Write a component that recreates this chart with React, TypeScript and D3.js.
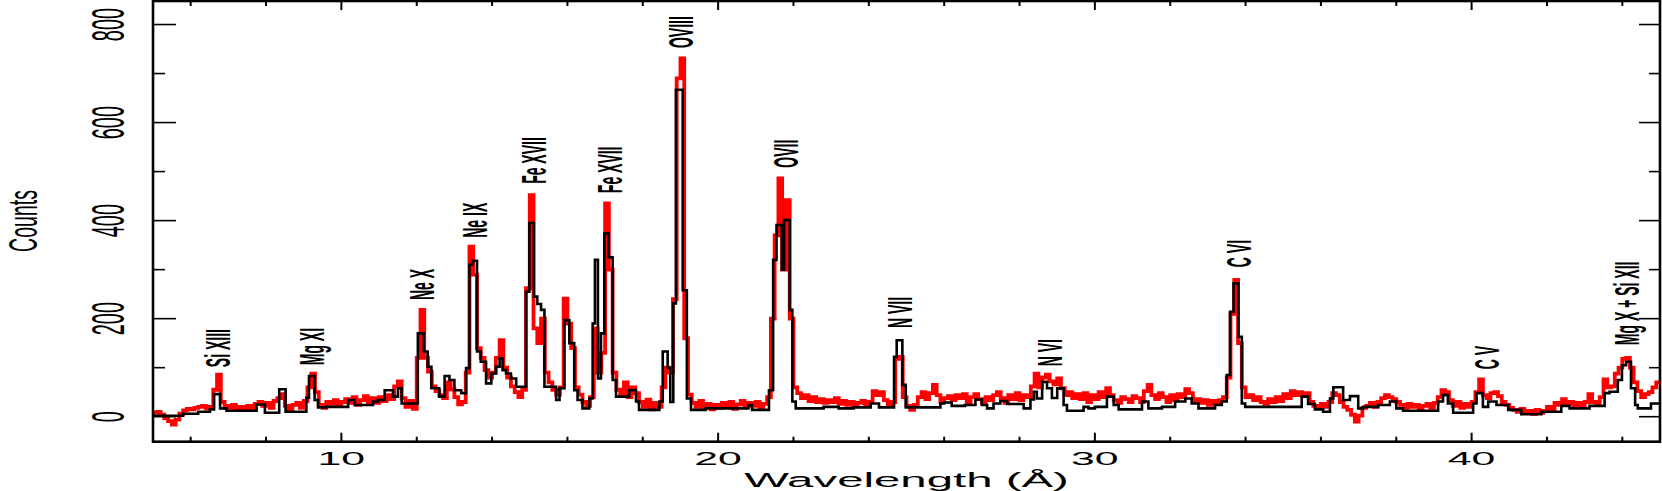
import React from 'react';
import * as d3 from 'd3';

const W = 1662;
const H = 491;

// Observed spectrum (red), 0.1 Å bins starting at 5.0 Å
const dataStart = 5.0;
const dataStep = 0.1;
const dataCounts = [
  8, 10, 4, -3, -9, -16, -6, 6, 13, 16,
  15, 18, 20, 22, 17, 20, 55, 86, 30, 22,
  18, 24, 16, 20, 14, 22, 17, 26, 30, 22,
  28, 18, 32, 38, 46, 22, 14, 24, 28, 18,
  32, 60, 88, 50, 24, 18, 30, 26, 34, 22,
  30, 36, 28, 40, 24, 34, 42, 30, 38, 28,
  40, 32, 44, 36, 62, 72, 38, 20, 32, 16,
  120, 218, 120, 92, 62, 52, 44, 38, 70, 56,
  40, 25, 30, 90, 347, 290, 140, 120, 95, 80,
  90, 120, 156, 100, 80, 62, 50, 40, 55, 262,
  452, 180, 150, 200, 90, 70, 55, 45, 60, 241,
  190, 140, 60, 45, 30, 22, 40, 180, 90, 130,
  435, 300, 90, 55, 45, 70, 40, 60, 48, 30,
  20, 35, 15, 28, 20, 60, 100, 90, 240, 690,
  731, 160, 45, 28, 20, 32, 18, 26, 15, 24,
  18, 28, 20, 30, 16, 25, 32, 20, 28, 22,
  30, 18, 26, 40, 200, 370, 486, 300, 442, 200,
  60, 48, 38, 44, 32, 40, 30, 36, 28, 34,
  30, 38, 26, 32, 24, 30, 22, 28, 32, 24,
  30, 52, 44, 50, 34, 22, 30, 118, 122, 40,
  22, 14, 24, 40, 50, 36, 48, 65, 44, 30,
  38, 42, 34, 44, 38, 46, 30, 40, 46, 36,
  28, 40, 34, 44, 50, 38, 28, 44, 36, 48,
  34, 44, 40, 62, 88, 60, 80, 86, 72, 66,
  78, 58, 44, 50, 38, 46, 36, 48, 30, 44,
  36, 50, 40, 58, 44, 34, 28, 40, 36, 30,
  42, 38, 30, 52, 65, 44, 36, 48, 40, 30,
  44, 34, 46, 40, 56, 48, 30, 36, 28, 34,
  24, 32, 26, 34, 40, 80, 210, 279, 150, 60,
  40, 44, 34, 40, 30, 26, 36, 30, 40, 32,
  46, 38, 52, 44, 50, 42, 48, 30, 22, 18,
  26, 20, 30, 48, 44, 30, 20, 14, 4, -10,
  2, 18, 22, 28, 20, 30, 38, 44, 40, 36,
  30, 24, 18, 26, 20, 24, 16, 22, 26, 18,
  28, 40, 54, 50, 34, 22, 30, 18, 26, 20,
  30, 50, 76, 44, 38, 48, 50, 42, 30, 24,
  18, 14, 10, 16, 8, 12, 6, 14, 8, 12,
  20, 14, 28, 24, 36, 26, 30, 20, 28, 22,
  30, 46, 30, 24, 40, 76, 60, 62, 88, 100,
  118, 120, 100, 70, 52, 40, 46, 50, 60, 70,
];

// Model (black): bin left edges (Å) and counts
const modelEdges = [
  5.0, 5.8, 6.2, 6.51, 6.62, 6.78, 6.95, 7.75, 7.97, 8.35, 8.52, 9.07, 9.14, 9.29, 9.38, 9.6,
  10.18, 10.35, 10.84, 10.97, 11.15, 11.37, 11.5, 11.6, 12.03, 12.19, 12.29, 12.39, 12.6, 12.74,
  12.87, 13.0, 13.18, 13.31, 13.4, 13.49, 13.6, 13.7, 13.84, 13.98, 14.1, 14.2, 14.28, 14.37,
  14.5, 14.64, 14.9, 14.99, 15.11, 15.2, 15.3, 15.39, 15.7, 15.79, 15.92, 16.05, 16.18, 16.27,
  16.4, 16.58, 16.67, 16.73, 16.81, 16.89, 16.98, 17.09, 17.2, 17.29, 17.64, 17.82, 17.9, 18.44,
  18.53, 18.66, 18.73, 18.81, 18.88, 19.06, 19.17, 19.28, 19.67, 20.8, 20.9, 21.35, 21.46, 21.55,
  21.69, 21.75, 21.9, 21.97, 22.06, 22.8, 23.2, 23.6, 24.05, 24.27, 24.67, 24.74, 24.89, 24.98,
  25.9, 26.0, 26.2, 26.55, 26.83, 27.0, 27.14, 27.31, 27.49, 27.67, 28.11, 28.29, 28.38, 28.46,
  28.6, 28.73, 28.86, 29.0, 29.17, 29.26, 29.7, 29.83, 30.0, 30.32, 30.5, 30.63, 31.25, 31.42,
  31.78, 32.13, 32.4, 32.57, 32.75, 33.19, 33.37, 33.5, 33.59, 33.68, 33.81, 33.9, 33.99, 35.49,
  35.66, 35.84, 36.06, 36.24, 36.33, 36.59, 36.77, 36.99, 37.12, 37.52, 37.83, 38.0, 38.18, 39.11,
  39.24, 39.37, 39.51, 40.04, 40.13, 40.3, 40.44, 40.66, 40.97, 41.32, 41.85, 42.38, 42.6, 43.13,
  43.53, 43.66, 43.88, 43.99, 44.1, 44.23, 44.34, 44.41, 44.76,
];
const modelCounts = [
  2, 6, 10, 15, 46, 17, 12, 25, 8, 56, 10, 39, 83, 34, 19, 20,
  34, 24, 31, 34, 54, 41, 58, 27, 170, 133, 102, 58, 41, 83,
  75, 54, 48, 99, 310, 318, 133, 112, 68, 88, 102, 119, 95, 88,
  78, 61, 255, 395, 245, 230, 218, 61, 34, 58, 197, 150, 54, 34,
  17, 37, 190, 320, 78, 170, 374, 325, 75, 41, 54, 31, 14, 31,
  133, 100, 30, 231, 667, 258, 37, 14, 17, 24, 14, 54, 320, 391,
  300, 401, 218, 31, 17, 20, 17, 19, 27, 19, 122, 156, 65, 19,
  27, 29, 22, 24, 35, 24, 17, 27, 32, 26, 17, 35, 51, 37,
  71, 58, 38, 58, 24, 12, 20, 17, 20, 41, 24, 15, 31, 17,
  20, 31, 37, 27, 17, 24, 31, 85, 214, 272, 163, 27, 20, 41,
  26, 15, 10, 37, 60, 34, 42, 17, 20, 24, 31, 17, 12, 31,
  44, 27, 8, 27, 48, 20, 31, 24, 14, 5, 10, 22, 17, 22,
  48, 51, 75, 105, 112, 58, 24, 17, 27,
];

const xMajorTicks = [10, 20, 30, 40];
const xMinorTicks = [6, 8, 12, 14, 16, 18, 22, 24, 26, 28, 32, 34, 36, 38, 42, 44];
const yMajorTicks = [0, 200, 400, 600, 800];
const yMinorTicks = [100, 300, 500, 700];

const lineLabels = ['Si XIII', 'Mg XI', 'Ne X', 'Ne IX', 'Fe XVII', 'Fe XVII', 'OVIII', 'OVII', 'N VII', 'N VI', 'C VI', 'C V', 'Mg X + Si XII'];
const lineWaves = [6.71, 9.21, 12.12, 13.53, 15.11, 17.11, 19.01, 21.79, 24.81, 28.8, 33.81, 40.4, 44.11];
const lineLabelBase = [101, 105, 238, 365, 475, 456, 752, 508, 181, 103, 305, 97, 146];

const FONT = '"Liberation Sans", Arial, sans-serif';

export default function App() {
  const x = d3.scaleLinear().domain([5, 45]).range([153, 1660]);
  const y = d3.scaleLinear().domain([-51, 848]).range([441.7, 1]);

  const dataPts: [number, number][] = dataCounts.map((v, i) => [dataStart + i * dataStep, v]);
  dataPts.push([45, dataCounts[dataCounts.length - 1]]);
  const modelPts: [number, number][] = modelEdges.map((e, i) => [e, modelCounts[i]]);
  modelPts.push([45, modelCounts[modelCounts.length - 1]]);

  const line = d3
    .line<[number, number]>()
    .x((d) => x(d[0]))
    .y((d) => y(d[1]))
    .curve(d3.curveStepAfter);

  const [x0, x1] = x.range();
  const [yb, yt] = y.range();

  return (
    <svg width={W} height={H} style={{ position: 'absolute', left: 0, top: 0, background: '#fff' }}>
      <defs>
        <clipPath id="plotclip">
          <rect x={x0} y={yt} width={x1 - x0} height={yb - yt} />
        </clipPath>
      </defs>
      <g clipPath="url(#plotclip)">
        <path d={line(dataPts) || ''} fill="none" stroke="#ff0000" strokeWidth={3.8} strokeLinejoin="miter" />
        <path d={line(modelPts) || ''} fill="none" stroke="#000" strokeWidth={2.6} strokeLinejoin="miter" />
      </g>

      {/* frame */}
      <rect x={x0} y={yt} width={x1 - x0} height={yb - yt} fill="none" stroke="#000" strokeWidth={2.6} />

      {/* x ticks */}
      {xMajorTicks.map((t) => (
        <g key={'xM' + t}>
          <line x1={x(t)} x2={x(t)} y1={yb} y2={yb - 9} stroke="#000" strokeWidth={2} />
          <line x1={x(t)} x2={x(t)} y1={yt} y2={yt + 9} stroke="#000" strokeWidth={2} />
          <text
            transform={`translate(${x(t)},465) scale(2.35,1)`}
            textAnchor="middle"
            fontFamily={FONT}
            fontSize={18.2}
            fill="#000"
          >
            {t}
          </text>
        </g>
      ))}
      {xMinorTicks.map((t) => (
        <g key={'xm' + t}>
          <line x1={x(t)} x2={x(t)} y1={yb} y2={yb - 5} stroke="#000" strokeWidth={2} />
          <line x1={x(t)} x2={x(t)} y1={yt} y2={yt + 5} stroke="#000" strokeWidth={2} />
        </g>
      ))}

      {/* y ticks */}
      {yMajorTicks.map((t) => (
        <g key={'yM' + t}>
          <line x1={x0} x2={x0 + 23} y1={y(t)} y2={y(t)} stroke="#000" strokeWidth={1.6} />
          <line x1={x1} x2={x1 - 21} y1={y(t)} y2={y(t)} stroke="#000" strokeWidth={1.6} />
          <text
            transform={`translate(124,${y(t)}) scale(2.33,1) rotate(-90)`}
            textAnchor="middle"
            fontFamily={FONT}
            fontSize={20}
            fill="#000"
          >
            {t}
          </text>
        </g>
      ))}
      {yMinorTicks.map((t) => (
        <g key={'ym' + t}>
          <line x1={x0} x2={x0 + 12} y1={y(t)} y2={y(t)} stroke="#000" strokeWidth={1.6} />
          <line x1={x1} x2={x1 - 11} y1={y(t)} y2={y(t)} stroke="#000" strokeWidth={1.6} />
        </g>
      ))}

      {/* axis titles */}
      <text
        transform={`translate(37,221) scale(2.05,1) rotate(-90)`}
        textAnchor="middle"
        fontFamily={FONT}
        fontSize={19.5}
        fill="#000"
      >
        Counts
      </text>
      <text
        transform={`translate(${(x0 + x1) / 2},486.5) scale(2.43,1)`}
        textAnchor="middle"
        fontFamily={FONT}
        fontSize={19.5}
        fill="#000"
      >
        Wavelength (Å)
      </text>

      {/* line labels */}
      {lineLabels.map((lab, i) => (
        <text
          key={'lab' + i}
          transform={`translate(${x(lineWaves[i])},${y(lineLabelBase[i])}) scale(2.5,1) rotate(-90)`}
          textAnchor="start"
          dy="0.358em"
          fontFamily={FONT}
          fontWeight="bold"
          fontSize={14}
          fill="#000"
        >
          {lab}
        </text>
      ))}
    </svg>
  );
}
